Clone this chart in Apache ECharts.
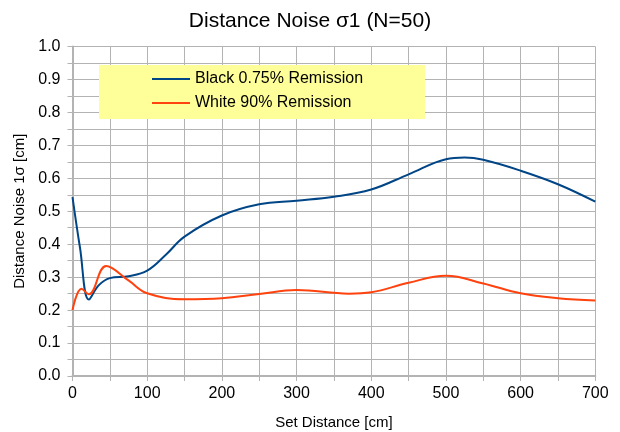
<!DOCTYPE html>
<html>
<head>
<meta charset="utf-8">
<script src="https://cdn.jsdelivr.net/npm/echarts@6/dist/echarts.min.js"></script>
<style>
  html, body { margin: 0; padding: 0; background: #fff; }
  #main { width: 620px; height: 432px; }
</style>
</head>
<body>
<div id="main"></div>
<script>
var blackDist  = [0, 10, 22, 35, 50, 75, 100, 125, 150, 200, 250, 300, 350, 400, 450, 500, 525, 550, 600, 650, 700];
var blackNoise = [0.543, 0.39, 0.232, 0.275, 0.297, 0.303, 0.32, 0.368, 0.423, 0.487, 0.521, 0.532, 0.544, 0.566, 0.612, 0.658, 0.663, 0.656, 0.623, 0.582, 0.529];

var whiteDist  = [0, 12, 22, 45, 75, 100, 150, 200, 250, 300, 370, 400, 450, 500, 550, 600, 650, 700];
var whiteNoise = [0.2, 0.265, 0.248, 0.334, 0.29, 0.251, 0.233, 0.236, 0.249, 0.261, 0.25, 0.254, 0.283, 0.304, 0.281, 0.251, 0.236, 0.229];

var seriesNames = ['Black 0.75% Remission', 'White 90% Remission'];

function pairs(xs, ys) {
    var out = [];
    for (var i = 0; i < xs.length; i++) out.push([xs[i], ys[i]]);
    return out;
}

var font = 'Liberation Sans, Arial, sans-serif';
var gridColor = '#b3b3b3';

var myChart = echarts.init(document.getElementById('main'));

var option = {
    animation: false,
    title: {
        text: 'Distance Noise σ1 (N=50)',
        left: 'center',
        top: 6,
        textStyle: { fontFamily: font, fontSize: 21, fontWeight: 'normal', color: '#000' }
    },
    legend: {
        left: 99,
        top: 65,
        orient: 'vertical',
        backgroundColor: '#ffff99',
        padding: [6, 62, 8, 53],
        itemGap: 8,
        itemWidth: 38,
        itemHeight: 14,
        icon: 'path://M0,6 L38,6 L38,8 L0,8 Z',
        textStyle: { fontFamily: font, fontSize: 16, lineHeight: 16, color: '#000' },
        data: seriesNames
    },
    grid: { left: 72.5, right: 24.7, top: 46.5, bottom: 56, outerBoundsMode: 'none' },
    xAxis: {
        type: 'value',
        min: 0,
        max: 700,
        interval: 100,
        name: 'Set Distance [cm]',
        nameLocation: 'middle',
        nameGap: 39,
        nameTextStyle: { fontFamily: font, fontSize: 15, color: '#000' },
        axisLine: { lineStyle: { color: gridColor, width: 2 } },
        axisTick: { show: true, length: 5, lineStyle: { color: gridColor } },
        minorTick: { show: true, splitNumber: 2, length: 5, lineStyle: { color: gridColor } },
        axisLabel: { fontFamily: font, fontSize: 16, color: '#000', margin: 10 },
        splitLine: { lineStyle: { color: gridColor } },
        minorSplitLine: { show: true, lineStyle: { color: gridColor } }
    },
    yAxis: {
        type: 'value',
        min: 0,
        max: 1,
        interval: 0.1,
        name: 'Distance Noise 1σ [cm]',
        nameLocation: 'middle',
        nameGap: 43,
        nameTextStyle: { fontFamily: font, fontSize: 15, color: '#000' },
        axisLine: { show: true, lineStyle: { color: gridColor, width: 2 } },
        axisTick: { show: true, length: 5, lineStyle: { color: gridColor } },
        minorTick: { show: true, splitNumber: 2, length: 5, lineStyle: { color: gridColor } },
        axisLabel: {
            fontFamily: font, fontSize: 16, color: '#000', margin: 12,
            formatter: function (v) { return v.toFixed(1); }
        },
        splitLine: { lineStyle: { color: gridColor } },
        minorSplitLine: { show: true, lineStyle: { color: gridColor } }
    },
    series: [{
        name: seriesNames[0],
        type: 'line',
        smooth: 0.4,
        showSymbol: false,
        color: '#004586',
        lineStyle: { width: 2, color: '#004586' },
        data: pairs(blackDist, blackNoise)
    }, {
        name: seriesNames[1],
        type: 'line',
        smooth: 0.4,
        showSymbol: false,
        color: '#ff420e',
        lineStyle: { width: 2, color: '#ff420e' },
        data: pairs(whiteDist, whiteNoise)
    }]
};

myChart.setOption(option);
</script>
</body>
</html>
